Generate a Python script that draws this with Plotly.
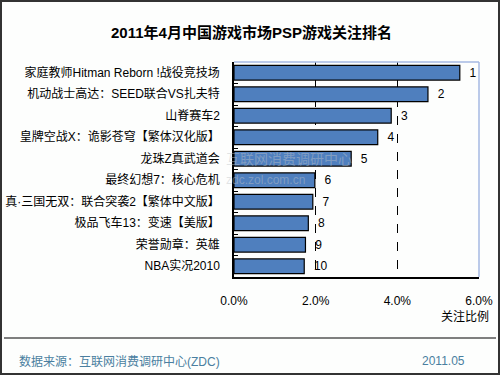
import plotly.graph_objects as go

categories = [
    "家庭教师Hitman Reborn !战役竞技场",
    "机动战士高达：SEED联合VS扎夫特",
    "山脊赛车2",
    "皇牌空战X：诡影苍穹【繁体汉化版】",
    "龙珠Z真武道会",
    "最终幻想7：核心危机",
    "真·三国无双：联合突袭2【繁体中文版】",
    "极品飞车13：变速【美版】",
    "荣誉勋章：英雄",
    "NBA实况2010",
]
values = [5.53, 4.75, 3.85, 3.52, 2.87, 1.98, 1.93, 1.82, 1.75, 1.72]
ranks = ["1", "2", "3", "4", "5", "6", "7", "8", "9", "10"]
x_ticks = [0, 2, 4, 6]
x_tick_labels = ["0.0%", "2.0%", "4.0%", "6.0%"]

W, H = 500, 375
FONT = "Liberation Sans, Noto Sans CJK SC, sans-serif"

fig = go.Figure(go.Bar(
    x=values, y=categories, orientation="h",
    marker=dict(color="#4F7FBE", line=dict(color="#000000", width=1.2)),
    width=0.68,
    text=["  " + r for r in ranks], textposition="outside",
    textfont=dict(family=FONT, size=12, color="#000000"),
    cliponaxis=False,
))

def px(x):
    return x / W

def py(y):
    return 1 - y / H

fig.update_layout(
    width=W, height=H, autosize=False,
    margin=dict(l=0, r=0, t=0, b=0, autoexpand=False),
    paper_bgcolor="#FDFEFD", plot_bgcolor="#FDFEFD",
    showlegend=False,
    font=dict(family=FONT, size=12, color="#000000"),
    xaxis=dict(
        domain=[px(234), px(479)], range=[0, 6],
        tickvals=x_ticks, ticktext=x_tick_labels,
        showgrid=True, gridcolor="#000000", griddash="dash", gridwidth=1,
        showline=True, linecolor="#000000", linewidth=1.5,
        ticks="", ticklabelstandoff=12, automargin=False,
        tickfont=dict(family=FONT, size=12, color="#000000"),
        zeroline=False, fixedrange=True,
    ),
    yaxis=dict(
        domain=[py(277), py(62)],
        autorange="reversed", automargin=False,
        showline=True, linecolor="#000000", linewidth=1.5,
        ticks="inside", ticklen=4, tickcolor="#000000", tickson="boundaries",
        ticklabelstandoff=10,
        tickfont=dict(family=FONT, size=12, color="#000000"),
        showgrid=False, fixedrange=True,
    ),
    shapes=[
        dict(type="line", xref="x domain", yref="y domain", x0=0, x1=1, y0=1, y1=1,
             line=dict(color="#A4B8E2", width=1.5)),
        dict(type="line", xref="x domain", yref="y domain", x0=1, x1=1, y0=0, y1=1,
             line=dict(color="#A4B8E2", width=1.5)),
        dict(type="line", xref="paper", yref="paper", x0=px(4), x1=px(496), y0=py(338), y1=py(338),
             line=dict(color="#000000", width=1)),
        dict(type="rect", xref="paper", yref="paper", x0=px(1), x1=px(499), y0=py(374), y1=py(1),
             line=dict(color="#333333", width=2)),
    ],
    annotations=[
        dict(text="<b>2011年4月中国游戏市场PSP游戏关注排名</b>", xref="paper", yref="paper",
             x=px(251), y=py(33), showarrow=False, xanchor="center", yanchor="middle",
             font=dict(family=FONT, size=15, color="#000000")),
        dict(text="关注比例", xref="paper", yref="paper", x=px(491), y=py(316),
             showarrow=False, xanchor="right", yanchor="middle",
             font=dict(family=FONT, size=12, color="#000000")),
        dict(text="数据来源：互联网消费调研中心(ZDC)", xref="paper", yref="paper",
             x=px(17), y=py(361), showarrow=False, xanchor="left", yanchor="middle",
             font=dict(family=FONT, size=12, color="#4A7FA0")),
        dict(text="2011.05", xref="paper", yref="paper",
             x=px(467), y=py(361), showarrow=False, xanchor="right", yanchor="middle",
             font=dict(family=FONT, size=12, color="#4A7FA0")),
        dict(text="互联网消费调研中心", xref="paper", yref="paper",
             x=px(224), y=py(159), showarrow=False, xanchor="left", yanchor="middle",
             font=dict(family=FONT, size=14, color="rgba(190,195,200,0.45)")),
        dict(text="zdc.zol.com.cn", xref="paper", yref="paper",
             x=px(224), y=py(180), showarrow=False, xanchor="left", yanchor="middle",
             font=dict(family=FONT, size=12, color="rgba(190,195,200,0.45)")),
    ],
)

post = (
    "document.body.style.margin='0';"
    "document.body.style.overflow='hidden';"
    "var gd=document.getElementById('{plot_id}');"
    "Plotly.relayout(gd,{width:500,height:375});"
)
fig.write_html("out.html", post_script=post,
               config={"displayModeBar": False, "responsive": False})
